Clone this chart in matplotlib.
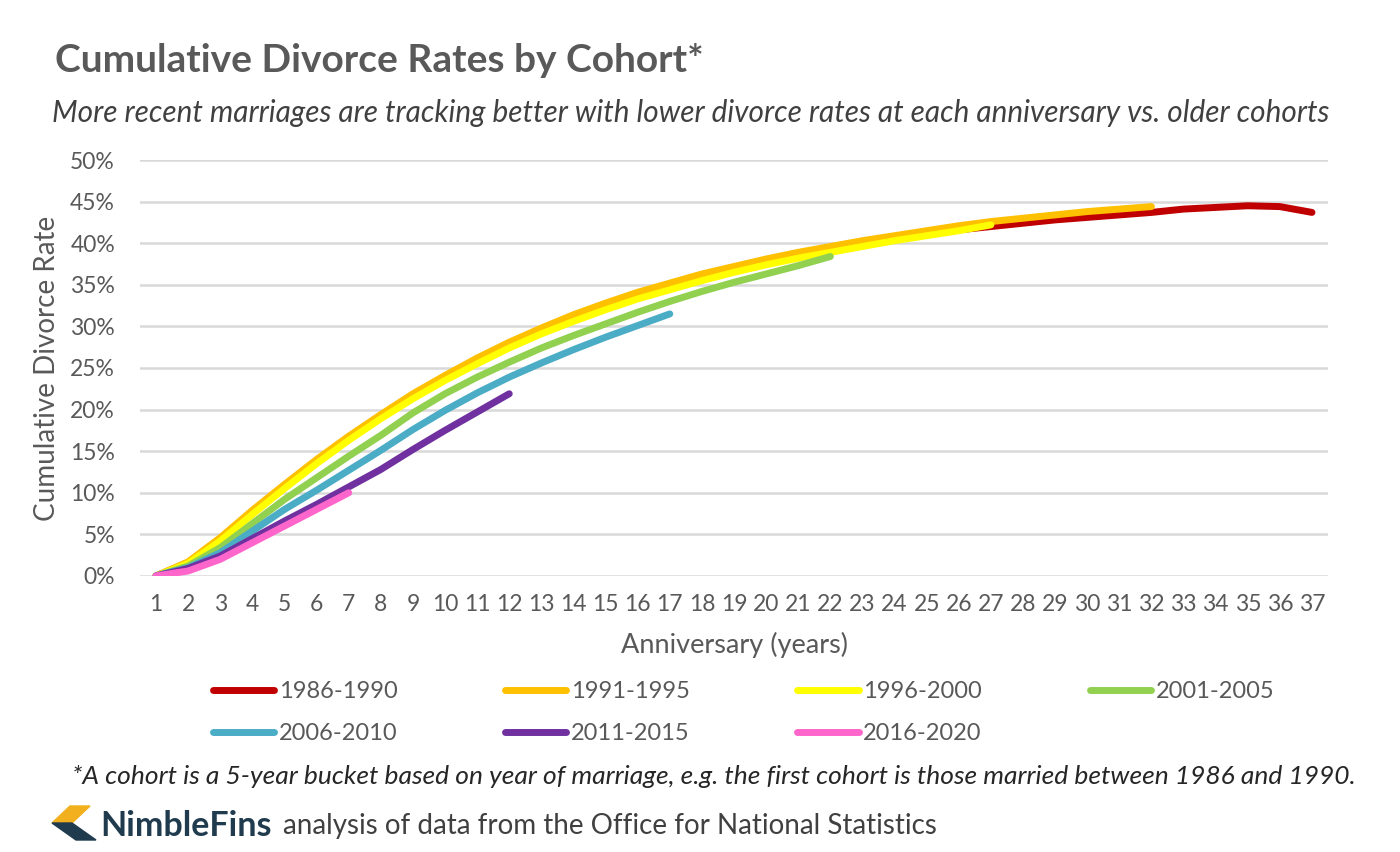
import matplotlib.pyplot as plt
from matplotlib.patches import Polygon
from matplotlib.ticker import PercentFormatter

plt.rcParams['font.family'] = ['Lato', 'DejaVu Sans']

# anniversary years shown on the x axis
years = list(range(1, 38))

# cumulative divorce rate (%) by anniversary, one list per cohort
c1986 = [0, 1.6, 4.4, 7.6, 10.7, 13.7, 16.5, 19.1, 21.6, 23.8, 25.9, 27.8, 29.5, 31.1,
         32.5, 33.8, 34.9, 36.0, 36.9, 37.8, 38.6, 39.3, 40.0, 40.6, 41.1, 41.6, 42.0,
         42.4, 42.8, 43.1, 43.4, 43.7, 44.1, 44.3, 44.5, 44.4, 43.7]
c1991 = [0, 1.7, 4.6, 7.9, 11.0, 14.0, 16.8, 19.4, 21.9, 24.1, 26.2, 28.1, 29.8, 31.4,
         32.8, 34.1, 35.2, 36.3, 37.2, 38.1, 38.9, 39.6, 40.3, 40.9, 41.5, 42.1, 42.6,
         43.0, 43.4, 43.8, 44.1, 44.4]
c1996 = [0, 1.5, 4.2, 7.4, 10.5, 13.5, 16.3, 18.9, 21.3, 23.5, 25.5, 27.4, 29.1, 30.6,
         32.0, 33.3, 34.4, 35.5, 36.5, 37.4, 38.2, 38.9, 39.6, 40.3, 40.9, 41.5, 42.2]
c2001 = [0, 1.2, 3.4, 6.3, 9.2, 11.8, 14.4, 16.9, 19.6, 21.9, 23.9, 25.7, 27.4, 28.9,
         30.3, 31.7, 33.0, 34.2, 35.3, 36.3, 37.3, 38.4]
c2006 = [0, 1.0, 2.8, 5.4, 8.0, 10.3, 12.7, 15.1, 17.6, 19.9, 22.0, 23.9, 25.6, 27.2,
         28.7, 30.1, 31.5]
c2011 = [0, 0.9, 2.4, 4.5, 6.6, 8.6, 10.7, 12.8, 15.2, 17.5, 19.7, 21.9]
c2016 = [0, 0.6, 2.0, 4.0, 6.0, 8.0, 10.0]

cohorts = ['1986-1990', '1991-1995', '1996-2000', '2001-2005',
           '2006-2010', '2011-2015', '2016-2020']
series = [c1986, c1991, c1996, c2001, c2006, c2011, c2016]
colors = ['#C00000', '#FFC000', '#FFFF00', '#92D050', '#4BACC6', '#7030A0', '#FF66CC']

fig = plt.figure(figsize=(14, 8.52), dpi=100)
ax = fig.add_axes([0.1, 0.324, 0.8486, 0.4882])

lines = []
for name, vals, col in zip(cohorts, series, colors):
    ln, = ax.plot(years[:len(vals)], vals, color=col, lw=5, solid_capstyle='round',
                  solid_joinstyle='round', label=name)
    lines.append(ln)

ax.set_xlim(0.5, 37.5)
ax.set_ylim(0, 50)
ax.set_yticks(range(0, 51, 5))
ax.set_xticks(years)
ax.yaxis.set_major_formatter(PercentFormatter(decimals=0))
ax.grid(axis='y', color='#D9D9D9', lw=1.8)
ax.set_axisbelow(True)
for s in ax.spines.values():
    s.set_visible(False)
ax.tick_params(length=0, labelsize=16.5, labelcolor='#595959')
ax.tick_params(axis='y', pad=18)
ax.tick_params(axis='x', pad=13)
ax.set_ylabel('Cumulative Divorce Rate', fontsize=20, color='#595959', labelpad=7)
ax.set_xlabel('Anniversary (years)', fontsize=19.5, color='#595959', labelpad=12)

# legend filled row by row, 4 columns
order = [0, 4, 1, 5, 2, 6, 3]
fig.legend([lines[i] for i in order], [cohorts[i] for i in order], ncol=4,
           loc='center', bbox_to_anchor=(0.531, 0.1637), frameon=False, fontsize=17,
           labelcolor='#595959', handlelength=2.6, handletextpad=0.2,
           columnspacing=4.55, labelspacing=0.9)

fig.text(55 / 1400, 1 - 60 / 852, 'Cumulative Divorce Rates by Cohort*', fontsize=28,
         fontweight='bold', color='#595959', va='center', ha='left')
fig.text(52 / 1400, 1 - 113 / 852,
         'More recent marriages are tracking better with lower divorce rates at each '
         'anniversary vs. older cohorts', fontsize=21.4, style='italic', color='#404040',
         va='center', ha='left')
fig.text(72 / 1400, 1 - 777 / 852,
         '*A cohort is a 5-year bucket based on year of marriage, e.g. the first cohort '
         'is those married between 1986 and 1990.', fontsize=19, style='italic',
         color='#262626', va='center', ha='left')

# NimbleFins logo mark
def px(pts):
    return [(x / 1400, 1 - y / 852) for x, y in pts]

fig.patches.append(Polygon(px([(70, 806), (90, 806), (72, 823), (52, 823)]),
                           closed=True, color='#F2B01E', transform=fig.transFigure))
fig.patches.append(Polygon(px([(52, 823), (72, 823), (96, 840), (76, 840)]),
                           closed=True, color='#1F3B4D', transform=fig.transFigure))
fig.text(100 / 1400, 1 - 826 / 852, 'NimbleFins', fontsize=24.5, fontweight='bold',
         color='#1F3B4D', va='center', ha='left')
fig.text(283 / 1400, 1 - 826 / 852, 'analysis of data from the Office for National Statistics',
         fontsize=20, color='#404040', va='center', ha='left')

fig.savefig('out.png', dpi=100, facecolor='white')
